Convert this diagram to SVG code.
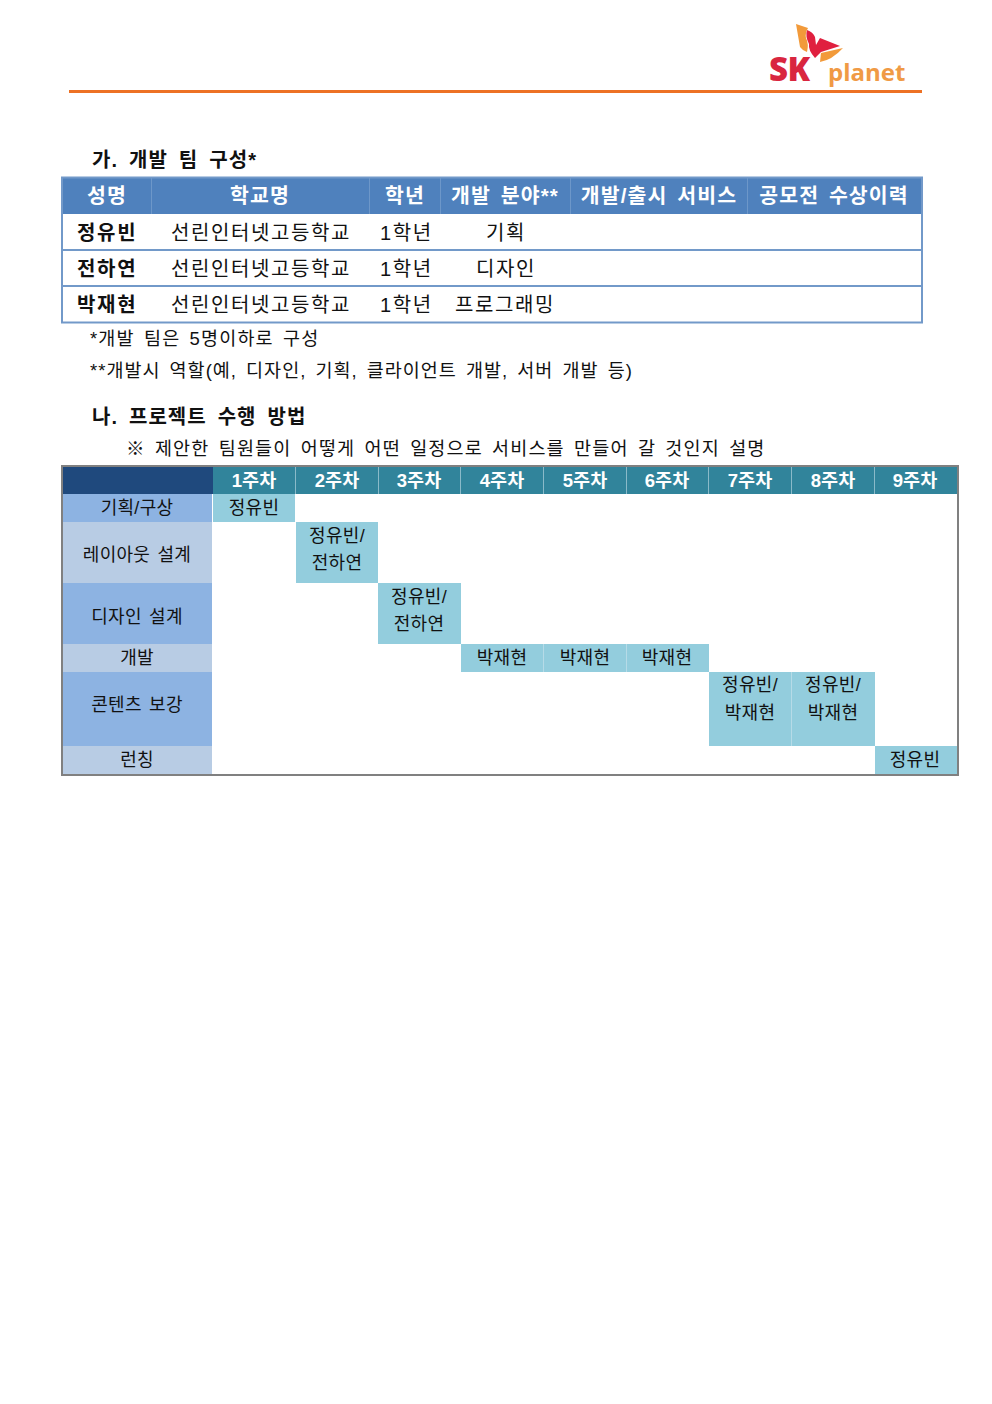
<svg xmlns="http://www.w3.org/2000/svg" width="992" height="1404" viewBox="0 0 992 1404">
<style>
text{font-family:"Liberation Sans","Noto Sans CJK KR",sans-serif;fill:#111;word-spacing:3px}
.h{font-size:20px;font-weight:700;letter-spacing:1px;word-spacing:4.500px}
.b{font-size:20px;letter-spacing:1.600px}
.n{font-size:20px;font-weight:700;letter-spacing:1.700px}
.s{font-size:18.500px;letter-spacing:1.150px}
.th{font-size:20.500px;font-weight:700;fill:#fff;letter-spacing:1.100px;text-anchor:middle}
.t{font-size:18px;text-anchor:middle;letter-spacing:.3px;word-spacing:2px}
.wk{font-size:18.500px;font-weight:700;fill:#fff;text-anchor:middle}
.cell{fill:#93cddd}
.a{fill:#8db3e2}
.c{fill:#b8cce4}
.wkbg{fill:#31849b}
</style>
<g id="logo">
<path d="M796 24 L808 28 Q805 33 806 38 Q809 44 807 52 Q802 50 800 47Z" fill="#f29a3a"/>
<path d="M807 30 Q813 32 815 37 L816 45 L820 38 L840 46 L821 52 L815 58 Q808 50 809 44 Q805 36 807 30Z" fill="#e0203f"/>
<path d="M843 48 L821 53 L820 62 Q832 60 843 48Z" fill="#f29a3a"/>
<text x="769" y="81" style="font-family:'Open Sans',sans-serif;font-size:33px;font-weight:800;fill:#d9263f;letter-spacing:-.5px">SK</text>
<text x="828" y="81" style="font-family:'Open Sans',sans-serif;font-size:24px;font-weight:700;fill:#f09a45;letter-spacing:0">planet</text>
</g>
<rect id="header-rule" x="69" y="90" width="853" height="3" fill="#ed7124"/>
<text class="h" x="92" y="167">가. 개발 팀 구성*</text>
<g id="team-table">
<rect x="62" y="178" width="860" height="36" fill="#4f81bd"/>
<path d="M151.500 178V214M369.500 178V214M440.500 178V214M570.500 178V214M747.500 178V214" stroke="#6d97c9" fill="none"/>
<rect x="62" y="177.500" width="860" height="145" fill="none" stroke="#7299c9" stroke-width="2"/>
<path d="M62 250H922M62 286H922" stroke="#7299c9" stroke-width="2"/>
<text class="th" x="107" y="203">성명</text>
<text class="th" x="260" y="203">학교명</text>
<text class="th" x="405" y="203">학년</text>
<text class="th" x="505" y="203">개발 분야**</text>
<text class="th" x="659" y="203">개발/출시 서비스</text>
<text class="th" x="834" y="203">공모전 수상이력</text>
<text class="n" x="77" y="240">정유빈</text>
<text class="b" x="171" y="240">선린인터넷고등학교</text>
<text class="b" x="380" y="240">1학년</text>
<text class="b" x="486" y="240">기획</text>
<text class="n" x="77" y="276">전하연</text>
<text class="b" x="171" y="276">선린인터넷고등학교</text>
<text class="b" x="380" y="276">1학년</text>
<text class="b" x="476" y="276">디자인</text>
<text class="n" x="77" y="312">박재현</text>
<text class="b" x="171" y="312">선린인터넷고등학교</text>
<text class="b" x="380" y="312">1학년</text>
<text class="b" x="455" y="312">프로그래밍</text>
</g>
<text class="s" x="90" y="345">*개발 팀은 5명이하로 구성</text>
<text class="s" x="90" y="377" style="letter-spacing:1px">**개발시 역할(예, 디자인, 기획, 클라이언트 개발, 서버 개발 등)</text>
<text class="h" x="92" y="424">나. 프로젝트 수행 방법</text>
<text class="s" x="126" y="455">※ 제안한 팀원들이 어떻게 어떤 일정으로 서비스를 만들어 갈 것인지 설명</text>
<g id="schedule-table">
<rect x="63" y="467" width="150" height="27" fill="#1f497d"/>
<rect class="wkbg" x="213" y="467" width="744" height="27"/>
<rect class="a" x="63" y="494" width="149" height="28"/>
<rect class="c" x="63" y="522" width="149" height="61"/>
<rect class="a" x="63" y="583" width="149" height="61"/>
<rect class="c" x="63" y="644" width="149" height="28"/>
<rect class="a" x="63" y="672" width="149" height="74"/>
<rect class="c" x="63" y="746" width="149" height="28"/>
<rect class="cell" x="213" y="494" width="82" height="28"/>
<rect class="cell" x="296" y="522" width="82" height="61"/>
<rect class="cell" x="378" y="583" width="83" height="61"/>
<rect class="cell" x="461" y="644" width="248" height="28"/>
<rect class="cell" x="709" y="672" width="166" height="74"/>
<rect class="cell" x="875" y="746" width="82" height="28"/>
<path d="M295.500 467V494M378.500 467V494M460.500 467V494M543.500 467V494M626.500 467V494M708.500 467V494M791.500 467V494M874.500 467V494M543.500 644V672M626.500 644V672M791.500 672V746" stroke="#d4e8ee" stroke-opacity=".55" fill="none"/>
<rect x="62" y="466" width="896" height="309" fill="none" stroke="#808080" stroke-width="2"/>
<text class="wk" x="254" y="487">1주차</text>
<text class="wk" x="337" y="487">2주차</text>
<text class="wk" x="419" y="487">3주차</text>
<text class="wk" x="502" y="487">4주차</text>
<text class="wk" x="585" y="487">5주차</text>
<text class="wk" x="667" y="487">6주차</text>
<text class="wk" x="750" y="487">7주차</text>
<text class="wk" x="833" y="487">8주차</text>
<text class="wk" x="915" y="487">9주차</text>
<text class="t" x="137" y="514">기획/구상</text>
<text class="t" x="137" y="561">레이아웃 설계</text>
<text class="t" x="137" y="623">디자인 설계</text>
<text class="t" x="137" y="664">개발</text>
<text class="t" x="137" y="711">콘텐츠 보강</text>
<text class="t" x="137" y="766">런칭</text>
<text class="t" x="254" y="514">정유빈</text>
<text class="t" x="337" y="542">정유빈/</text>
<text class="t" x="337" y="569">전하연</text>
<text class="t" x="419" y="603">정유빈/</text>
<text class="t" x="419" y="630">전하연</text>
<text class="t" x="502" y="664">박재현</text>
<text class="t" x="585" y="664">박재현</text>
<text class="t" x="667" y="664">박재현</text>
<text class="t" x="750" y="691">정유빈/</text>
<text class="t" x="750" y="719">박재현</text>
<text class="t" x="833" y="691">정유빈/</text>
<text class="t" x="833" y="719">박재현</text>
<text class="t" x="915" y="766">정유빈</text>
</g>
</svg>
